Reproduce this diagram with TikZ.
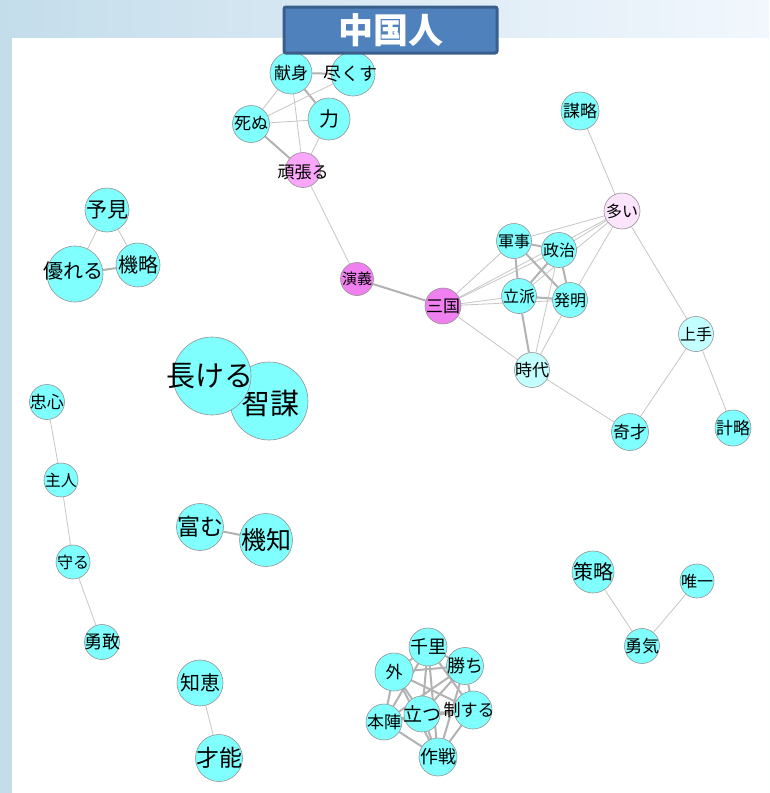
\documentclass[tikz,border=0pt]{standalone}
\usepackage{fontspec}
\setmainfont{Noto Sans CJK JP}
\usepackage{tikz}
\usetikzlibrary{positioning}
\usetikzlibrary{shapes}
\usetikzlibrary{backgrounds}

\definecolor{wcyan}{RGB}{128,255,255}
\definecolor{wpale}{RGB}{196,255,255}
\definecolor{wpink}{RGB}{252,228,252}
\definecolor{wrose}{RGB}{250,166,250}
\definecolor{wmag}{RGB}{240,128,240}
\definecolor{bgl}{RGB}{196,221,235}
\definecolor{bgr}{RGB}{242,247,253}
\definecolor{tfill}{RGB}{79,129,189}
\definecolor{tline}{RGB}{58,95,140}
\newcommand{\fs}[1]{\fontsize{#1}{#1}\selectfont}

\tikzset{
    word/.style = {circle, draw = gray!85, fill = wcyan, inner sep = 0pt, line width = 0.6},
    link/.style = {draw = gray!45, line width = 0.8},
    tie/.style = {draw = gray!60, line width = 2},
    titlebox/.style = {rectangle, rounded corners = 2, fill = tfill, draw = tline, line width = 3,
        minimum width = 213, minimum height = 46, text = white, font = \fs{35}\bfseries}
}

\begin{document}
\begin{tikzpicture}[x = 1pt, y = -1pt]
    \useasboundingbox (0,0) rectangle (769,793);
    % nodes %
    \node[word, minimum size = 42, label = {[font = \fs{17}]center:献身}] (kenshin) at (291,73) {};
    \node[word, minimum size = 44, label = {[font = \fs{18}, xshift = -3]center:尽くす}] (tsukusu) at (353,74) {};
    \node[word, minimum size = 37, label = {[font = \fs{17}]center:死ぬ}] (shinu) at (251,124) {};
    \node[word, minimum size = 42, label = {[font = \fs{20}]center:力}] (chikara) at (329,119) {};
    \node[word, fill = wrose, minimum size = 35, label = {[font = \fs{17}, yshift = -2]center:頑張る}] (ganbaru) at (303,170) {};
    \node[word, fill = wmag, minimum size = 33, label = {[font = \fs{15}]center:演義}] (engi) at (357,279) {};
    \node[word, fill = wmag, minimum size = 36, label = {[font = \fs{17}]center:三国}] (sangoku) at (443,306) {};
    \node[word, minimum size = 38, label = {[font = \fs{17}]center:謀略}] (bouryaku) at (580,111) {};
    \node[word, fill = wpink, minimum size = 36, label = {[font = \fs{16}]center:多い}] (ooi) at (622,211) {};
    \node[word, minimum size = 35, label = {[font = \fs{16}]center:軍事}] (gunji) at (514,241) {};
    \node[word, minimum size = 35, label = {[font = \fs{16}]center:政治}] (seiji) at (559,250) {};
    \node[word, minimum size = 35, label = {[font = \fs{16}]center:立派}] (rippa) at (519,296) {};
    \node[word, minimum size = 35, label = {[font = \fs{16}]center:発明}] (hatsumei) at (570,300) {};
    \node[word, fill = wpale, minimum size = 35, label = {[font = \fs{17}]center:時代}] (jidai) at (532,370) {};
    \node[word, fill = wpale, minimum size = 35, label = {[font = \fs{16}]center:上手}] (jouzu) at (696,334) {};
    \node[word, minimum size = 37, label = {[font = \fs{17}]center:奇才}] (kisai) at (630,432) {};
    \node[word, minimum size = 36, label = {[font = \fs{17}]center:計略}] (keiryaku) at (733,428) {};
    \node[word, minimum size = 44, label = {[font = \fs{21}]center:予見}] (yoken) at (107,210) {};
    \node[word, minimum size = 56, label = {[font = \fs{20}, xshift = -2, yshift = 3]center:優れる}] (sugureru) at (75,274) {};
    \node[word, minimum size = 44, label = {[font = \fs{20}]center:機略}] (kiryaku) at (138,265) {};
    \node[word, minimum size = 78, label = {[font = \fs{29}, xshift = 1, yshift = -2]center:智謀}] (chibou) at (269,401) {};
    \node[word, minimum size = 78, label = {[font = \fs{29}, xshift = -2]center:長ける}] (takeru) at (212,376) {};
    \node[word, minimum size = 35, label = {[font = \fs{17}]center:忠心}] (chuushin) at (47,402) {};
    \node[word, minimum size = 34, label = {[font = \fs{16}]center:主人}] (shujin) at (61,480) {};
    \node[word, minimum size = 34, label = {[font = \fs{16}]center:守る}] (mamoru) at (73,562) {};
    \node[word, minimum size = 35, label = {[font = \fs{18}]center:勇敢}] (yuukan) at (102,642) {};
    \node[word, minimum size = 47, label = {[font = \fs{23}]center:富む}] (tomu) at (200,527) {};
    \node[word, minimum size = 53, label = {[font = \fs{25}]center:機知}] (kichi) at (266,540) {};
    \node[word, minimum size = 46, label = {[font = \fs{20}]center:知恵}] (chie) at (200,683) {};
    \node[word, minimum size = 47, label = {[font = \fs{23}]center:才能}] (sainou) at (219,758) {};
    \node[word, minimum size = 42, label = {[font = \fs{20}]center:策略}] (sakuryaku) at (593,572) {};
    \node[word, minimum size = 34, label = {[font = \fs{16}]center:唯一}] (yuiitsu) at (697,581) {};
    \node[word, minimum size = 35, label = {[font = \fs{17}]center:勇気}] (yuuki) at (642,646) {};
    \node[word, minimum size = 38, label = {[font = \fs{18}]center:千里}] (senri) at (428,647) {};
    \node[word, minimum size = 38, label = {[font = \fs{17}]center:外}] (soto) at (394,672) {};
    \node[word, minimum size = 37, label = {[font = \fs{18}]center:勝ち}] (kachi) at (465,666) {};
    \node[word, minimum size = 36, label = {[font = \fs{17}]center:本陣}] (honjin) at (384,722) {};
    \node[word, minimum size = 38, label = {[font = \fs{18}]center:作戦}] (sakusen) at (438,757) {};
    \node[word, minimum size = 38, label = {[font = \fs{17}, xshift = -4]center:制する}] (seisuru) at (473,710) {};
    \node[word, minimum size = 36, label = {[font = \fs{19}]center:立つ}] (tatsu) at (422,714) {};
    \node[titlebox] (title) at (390.5,30) {中国人};
    % edges %
    \begin{scope}[on background layer]
    \fill[left color = bgl, right color = bgr] (0,0) rectangle (769,793);
    \fill[white] (12,38) rectangle (769,793);
    \draw[tie] (kenshin) -- (tsukusu);
    \draw[tie] (kenshin) -- (chikara);
    \draw[link] (kenshin) -- (shinu);
    \draw[link] (kenshin) -- (ganbaru);
    \draw[link] (tsukusu) -- (shinu);
    \draw[link] (shinu) -- (chikara);
    \draw[tie] (shinu) -- (ganbaru);
    \draw[link] (chikara) -- (ganbaru);
    \draw[link] (ganbaru) -- (engi);
    \draw[tie] (engi) -- (sangoku);
    \foreach \b in {gunji, seiji, rippa, hatsumei, jidai, ooi}
        \draw[link] (sangoku) -- (\b);
    \foreach \a/\b in {gunji/seiji, gunji/rippa, gunji/hatsumei, seiji/rippa, seiji/hatsumei, rippa/hatsumei, rippa/jidai}
        \draw[tie] (\a) -- (\b);
    \foreach \a/\b in {seiji/jidai, hatsumei/jidai, gunji/ooi, seiji/ooi, rippa/ooi, hatsumei/ooi, bouryaku/ooi, ooi/jouzu, jidai/kisai, jouzu/kisai, jouzu/keiryaku}
        \draw[link] (\a) -- (\b);
    \draw[link] (yoken) -- (sugureru);
    \draw[link] (yoken) -- (kiryaku);
    \draw[tie] (sugureru) -- (kiryaku);
    \draw[link] (chuushin) -- (shujin);
    \draw[link] (shujin) -- (mamoru);
    \draw[link] (mamoru) -- (yuukan);
    \draw[tie] (tomu) -- (kichi);
    \draw[link] (chie) -- (sainou);
    \draw[link] (sakuryaku) -- (yuuki);
    \draw[link] (yuiitsu) -- (yuuki);
    \foreach \a/\b in {senri/soto, senri/kachi, senri/seisuru, senri/honjin, senri/tatsu, senri/sakusen,
        soto/kachi, soto/seisuru, soto/honjin, soto/tatsu, soto/sakusen,
        kachi/seisuru, kachi/honjin, kachi/tatsu, kachi/sakusen,
        seisuru/honjin, seisuru/tatsu, seisuru/sakusen,
        honjin/tatsu, honjin/sakusen, tatsu/sakusen}
        \draw[tie] (\a) -- (\b);
    \end{scope}
\end{tikzpicture}
\end{document}
